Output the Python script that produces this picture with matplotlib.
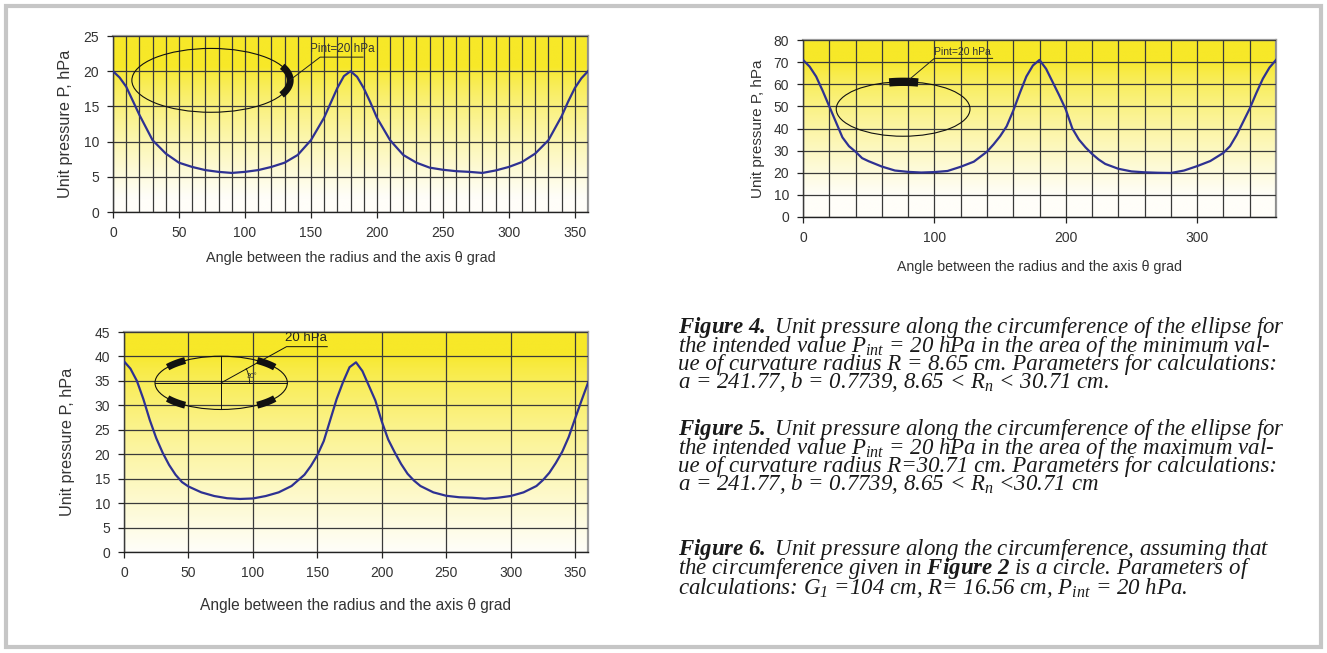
import numpy as np
import matplotlib
matplotlib.use("Agg")
import matplotlib.pyplot as plt
from matplotlib.patches import Ellipse, Rectangle
from matplotlib.ticker import MultipleLocator

plt.rcParams['font.family'] = ['Liberation Sans', 'DejaVu Sans']
plt.rcParams['mathtext.fontset'] = 'custom'
plt.rcParams['mathtext.rm'] = 'Liberation Serif:italic'
plt.rcParams['mathtext.it'] = 'Liberation Serif:italic'
plt.rcParams['mathtext.bf'] = 'Liberation Serif:italic:bold'

# --- data ---
# Figure 4: minimum curvature radius
theta4 = [0, 5, 10, 15, 20, 30, 40, 50, 60, 70, 80, 90, 100, 110, 120, 130, 140,
          150, 160, 165, 170, 175, 180, 185, 190, 195, 200, 210, 220, 230, 240,
          250, 260, 270, 280, 290, 300, 310, 320, 330, 340, 345, 350, 355, 360]
p4 = [20.0, 19.1, 17.8, 15.8, 13.8, 10.2, 8.3, 7.0, 6.4, 5.95, 5.7, 5.55, 5.7,
      5.95, 6.4, 7.0, 8.1, 10.2, 13.4, 15.5, 17.6, 19.3, 20.0, 19.2, 17.6, 15.6,
      13.4, 10.2, 8.1, 7.0, 6.3, 6.0, 5.8, 5.7, 5.55, 5.9, 6.4, 7.1, 8.3, 10.2,
      13.6, 15.7, 17.6, 19.0, 20.0]

# Figure 5: maximum curvature radius
theta5 = [0, 5, 10, 15, 20, 25, 30, 35, 40, 45, 50, 60, 70, 80, 90, 100, 110,
          120, 130, 140, 145, 150, 155, 160, 165, 170, 175, 180, 185, 190, 195,
          200, 205, 210, 215, 220, 225, 230, 240, 250, 260, 270, 280, 290, 300,
          310, 320, 325, 330, 335, 340, 345, 350, 355, 360]
p5 = [71, 68, 63.5, 57, 50, 43, 36, 32, 29.5, 26.6, 25.2, 22.8, 21, 20.4, 20.1,
      20.3, 20.8, 22.7, 25, 29.5, 32.8, 36.5, 41, 48, 56, 63.5, 68.5, 71, 67, 61,
      55, 48.6, 40, 35, 31.5, 28.5, 26, 24, 21.8, 20.6, 20.2, 20.0, 19.9, 21, 23,
      25.3, 29, 32, 37, 43, 49, 56, 62.5, 67.5, 71]

# Figure 6: circle assumption
theta6 = [0, 5, 10, 15, 20, 25, 30, 35, 40, 45, 50, 60, 70, 80, 90, 100, 110,
          120, 130, 140, 145, 150, 155, 160, 165, 170, 175, 180, 185, 190, 195,
          200, 205, 210, 215, 220, 225, 230, 240, 250, 260, 270, 280, 290, 300,
          310, 320, 325, 330, 335, 340, 345, 350, 355, 360]
p6 = [39, 37.5, 35, 31.3, 27, 23.3, 20.3, 17.8, 15.8, 14.3, 13.4, 12.2, 11.45,
      11.0, 10.85, 10.95, 11.45, 12.2, 13.5, 15.8, 17.6, 19.8, 22.7, 27, 31.3,
      34.8, 37.8, 38.8, 37, 34, 31, 26.7, 23, 20.4, 18, 16, 14.6, 13.5, 12.2,
      11.5, 11.2, 11.1, 10.9, 11.1, 11.45, 12.2, 13.5, 14.7, 16.2, 18.2, 20.5,
      23.5, 27.3, 31, 34.6]

xlabel = "Angle between the radius and the axis \u03b8 grad"
ylabel = "Unit pressure P, hPa"

fig4_lines = [
    r"$\mathbf{Figure\ 4.}$ Unit pressure along the circumference of the ellipse for",
    r"the intended value $P_{int}$ = 20 hPa in the area of the minimum val-",
    r"ue of curvature radius R = 8.65 cm. Parameters for calculations:",
    r"a = 241.77, b = 0.7739, 8.65 < $R_n$ < 30.71 cm.",
]
fig5_lines = [
    r"$\mathbf{Figure\ 5.}$ Unit pressure along the circumference of the ellipse for",
    r"the intended value $P_{int}$ = 20 hPa in the area of the maximum val-",
    r"ue of curvature radius R=30.71 cm. Parameters for calculations:",
    r"a = 241.77, b = 0.7739, 8.65 < $R_n$ <30.71 cm",
]
fig6_lines = [
    r"$\mathbf{Figure\ 6.}$ Unit pressure along the circumference, assuming that",
    r"the circumference given in $\mathbf{Figure\ 2}$ is a circle. Parameters of",
    r"calculations: $G_1$ =104 cm, R= 16.56 cm, $P_{int}$ = 20 hPa.",
]

YELLOW = np.array([247, 232, 40]) / 255.0
WHITE = np.array([255, 254, 249]) / 255.0
LINE_BLUE = '#2e3192'
GRID = '#3a3a3a'

fig = plt.figure(figsize=(13.27, 6.53), dpi=100)
W, H = 1327.0, 653.0


def add_axes(left, top, right, bottom):
    return fig.add_axes([left / W, 1 - bottom / H, (right - left) / W, (bottom - top) / H])


def gradient(ax, y_solid, y_white):
    f = np.linspace(0, 1, 300)[:, None]  # 0 = top
    t = np.clip((f - y_solid) / (y_white - y_solid), 0, 1) ** 0.75
    img = YELLOW[None, None, :] * (1 - t[..., None]) + WHITE[None, None, :] * t[..., None]
    img = np.repeat(img, 2, axis=1)
    ax.imshow(img, extent=[0, 1, 0, 1], transform=ax.transAxes, aspect='auto',
              zorder=0, interpolation='bilinear')


def style(ax, ymax, xmaj, xmin, ystep, ylab_x, xlab_y, ylab_fs, xlab_fs):
    ax.set_xlim(0, 360)
    ax.set_ylim(0, ymax)
    ax.xaxis.set_major_locator(MultipleLocator(xmaj))
    if xmin:
        ax.xaxis.set_minor_locator(MultipleLocator(xmin))
    ax.yaxis.set_major_locator(MultipleLocator(ystep))
    ax.grid(True, which='both', color=GRID, lw=0.9, zorder=1)
    ax.set_axisbelow(False)
    ax.tick_params(which='major', direction='out', length=4, width=0.9, colors='#222',
                   labelsize=10, labelcolor='#333', pad=6)
    ax.tick_params(which='minor', length=0)
    for s in ('left', 'bottom'):
        ax.spines[s].set_color('#222')
        ax.spines[s].set_linewidth(1.0)
    for s in ('top', 'right'):
        ax.spines[s].set_color('#9a9a9a')
        ax.spines[s].set_linewidth(1.6)
    ax.set_ylabel(ylabel, fontsize=ylab_fs, color='#333', va='center')
    ax.set_xlabel(xlabel, fontsize=xlab_fs, color='#333', va='center')
    ax.yaxis.set_label_coords(ylab_x, 0.5)
    ax.xaxis.set_label_coords(0.5, xlab_y)


def ellipse_arc(ax, cx, cy, w, h, t1, t2, lw=5):
    t = np.radians(np.linspace(t1, t2, 30))
    ax.plot(cx + w / 2 * np.cos(t), cy + h / 2 * np.sin(t), color='#111', lw=lw,
            solid_capstyle='butt', zorder=4)


# ---- Figure 4 (top left) ----
ax4 = add_axes(113, 36, 588, 212)
gradient(ax4, 0.18, 0.92)
style(ax4, 25, 50, 10, 5, -0.100, -0.262, 11.7, 10.4)
ax4.plot(theta4, p4, color=LINE_BLUE, lw=1.6, zorder=3)
ax4.add_patch(Ellipse((74.3, 18.7), 120, 9.07, fill=False, ec='#111', lw=0.8, zorder=4))
ellipse_arc(ax4, 74.3, 18.7, 120, 9.07, -27, 26)
ax4.plot([134.3, 157, 189.5], [18.76, 22.0, 22.0], color='#222', lw=0.7, zorder=4)
ax4.text(174, 22.3, "Pint=20 hPa", fontsize=8.5, color='#333', ha='center', va='bottom', zorder=5)

# ---- Figure 5 (top right) ----
ax5 = add_axes(803, 40, 1276, 217)
gradient(ax5, 0.12, 0.88)
style(ax5, 80, 100, 20, 10, -0.095, -0.282, 11.0, 10.2)
ax5.plot(theta5, p5, color=LINE_BLUE, lw=1.6, zorder=3)
ax5.add_patch(Ellipse((76.2, 48.8), 101.8, 24.6, fill=False, ec='#111', lw=0.8, zorder=4))
ellipse_arc(ax5, 76.2, 48.8, 101.8, 24.6, 77, 102, lw=6)
ax5.plot([81, 100, 144.3], [62.2, 71.7, 71.7], color='#222', lw=0.7, zorder=4)
ax5.text(100, 72.3, "Pint=20 hPa", fontsize=7.5, color='#333', ha='left', va='bottom', zorder=5)

# ---- Figure 6 (bottom left) ----
ax6 = add_axes(124, 332, 588, 552)
gradient(ax6, 0.10, 1.0)
style(ax6, 45, 50, None, 5, -0.121, -0.241, 11.7, 11.2)
ax6.plot(theta6, p6, color=LINE_BLUE, lw=1.6, zorder=3)
cx, cy, ew, eh = 75.4, 34.6, 102.7, 10.9
ax6.add_patch(Ellipse((cx, cy), ew, eh, fill=False, ec='#111', lw=0.8, zorder=4))
for a1, a2 in [(36, 57), (123, 144), (216, 237), (303, 324)]:
    ellipse_arc(ax6, cx, cy, ew, eh, a1, a2, lw=5)
ax6.plot([cx - ew / 2, cx + ew / 2], [cy, cy], color='#111', lw=0.7, zorder=4)
ax6.plot([cx, cx], [cy - eh / 2, cy + eh / 2], color='#111', lw=0.7, zorder=4)
ax6.plot([cx, 126.1, 157.7], [cy, 42.0, 42.0], color='#111', lw=0.7, zorder=4)
ta = np.radians(np.linspace(0, 28, 10))
ax6.plot(cx + 22 * np.cos(ta), cy + 6.2 * np.sin(ta), color='#111', lw=0.6, zorder=4)
ax6.text(99.5, 35.9, "30\u00b0", fontsize=5, color='#333', ha='center', va='center', zorder=5)
ax6.text(141, 42.5, "20 hPa", fontsize=9.5, color='#222', ha='center', va='bottom', zorder=5)


# ---- captions: one text block per figure caption ----
# va='baseline' on a multi-line text pins the baseline of its last line
def caption(lines, last_baseline):
    fig.text(678 / W, 1 - last_baseline / H, "\n".join(lines), fontsize=16.5,
             family='Liberation Serif', style='italic', color='#1a1a1a', ha='left',
             va='baseline', linespacing=0.7, multialignment='left')


caption(fig4_lines, 388)
caption(fig5_lines, 490)
caption(fig6_lines, 594)

# outer frame
fig.patches.append(Rectangle((6 / W, 6 / H), 1 - 12 / W, 1 - 12 / H, transform=fig.transFigure,
                             fill=False, ec='#c6c6c6', lw=3))

fig.savefig("out.png", dpi=100)
